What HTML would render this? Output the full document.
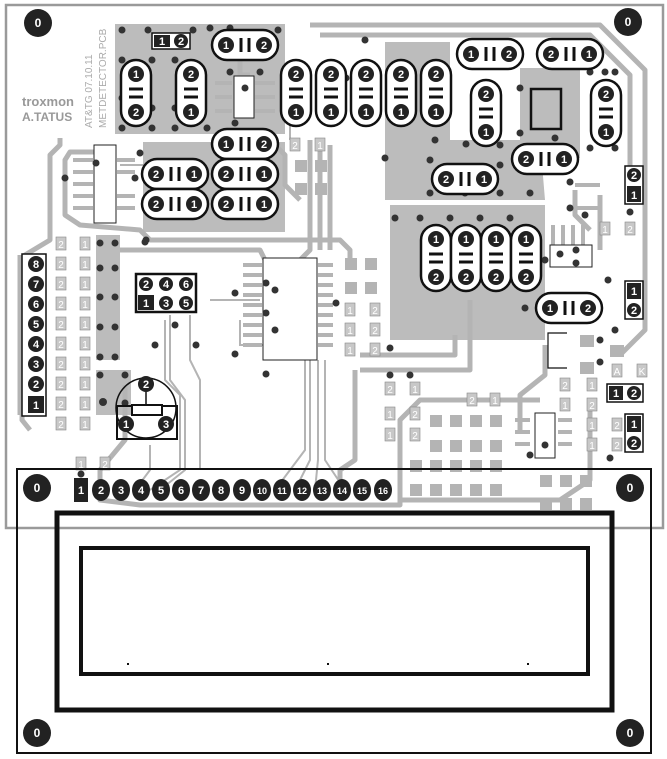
<!DOCTYPE html>
<html><head><meta charset="utf-8"><style>
html,body{margin:0;padding:0;background:#fff}
svg{display:block}
text{font-family:"Liberation Sans",sans-serif}
</style></head><body>
<svg width="667" height="759" viewBox="0 0 667 759" xmlns="http://www.w3.org/2000/svg">
<!-- board outline -->
<rect x="6" y="5" width="657" height="523" fill="none" stroke="#9a9a9a" stroke-width="2.5"/>

<!-- gray copper regions -->
<g fill="#bcbcbc">
<rect x="115" y="24" width="170" height="110"/>
<rect x="143" y="142" width="142" height="90"/>
<polygon points="385,42 450,42 450,140 540,140 545,200 385,200"/>
<rect x="390" y="205" width="155" height="135"/>
<rect x="96" y="235" width="24" height="125"/>
<rect x="96" y="370" width="35" height="45"/>
<rect x="520" y="68" width="60" height="90"/>
</g>

<!-- traces -->
<g fill="none" stroke="#b4b4b4" stroke-width="5" stroke-linejoin="round">
<polyline points="310,25 600,25 645,70 645,330 620,355"/>
<polyline points="320,35 590,35 630,75 630,180"/>
<polyline points="60,138 60,145 50,155 50,240 25,255 22,420 30,430"/>
<polyline points="20,255 20,415"/>
<polyline points="95,152 70,152 65,160 65,215 80,225 140,230 150,240 340,240 350,250 350,260"/>
<polyline points="120,250 260,250 265,260"/>
<polyline points="125,385 125,440 100,470 100,500 140,505 400,505 400,420 420,400 540,400"/>
<polyline points="355,370 355,460 340,470 340,480"/>
<polyline points="400,460 400,500 560,500 590,480 590,400"/>
<polyline points="240,60 240,75 250,75"/>
<polyline points="310,140 310,250 300,260"/>
<polyline points="320,145 320,250"/>
<polyline points="330,145 330,250"/>
<polyline points="270,140 285,155 285,185 300,200"/>
<polyline points="455,335 455,355 360,355"/>
<polyline points="470,300 470,370 360,370"/>
<polyline points="545,345 545,375 520,395 520,430"/>
<polyline points="600,195 600,250"/>
<polyline points="575,190 575,215 590,230"/>
</g>
<g fill="none" stroke="#b4b4b4" stroke-width="2">
<polyline points="170,315 170,380 185,400 185,470 160,490"/>
<polyline points="190,315 190,360 200,380 200,470"/>
<polyline points="165,320 165,380 180,395 180,470 150,490"/>
<polyline points="305,360 305,450 275,490"/>
<polyline points="310,360 310,460 295,490"/>
<polyline points="318,360 318,460 315,490"/>
<polyline points="325,360 325,460 345,490"/>
<polyline points="150,445 150,470 135,490"/>
<polyline points="240,320 240,345 270,345"/>
<polyline points="210,300 260,300"/>
<polyline points="290,125 290,140"/>
<polyline points="120,165 145,165"/>
</g>
<!-- IC pins -->
<g stroke="#b4b4b4" stroke-width="4">
<line x1="243" y1="265" x2="262" y2="265"/><line x1="243" y1="275" x2="262" y2="275"/><line x1="243" y1="285" x2="262" y2="285"/><line x1="243" y1="295" x2="262" y2="295"/><line x1="243" y1="305" x2="262" y2="305"/><line x1="243" y1="315" x2="262" y2="315"/><line x1="243" y1="325" x2="262" y2="325"/><line x1="243" y1="335" x2="262" y2="335"/><line x1="243" y1="345" x2="262" y2="345"/>
<line x1="318" y1="265" x2="333" y2="265"/><line x1="318" y1="275" x2="333" y2="275"/><line x1="318" y1="285" x2="333" y2="285"/><line x1="318" y1="295" x2="333" y2="295"/><line x1="318" y1="305" x2="333" y2="305"/><line x1="318" y1="315" x2="333" y2="315"/><line x1="318" y1="325" x2="333" y2="325"/><line x1="318" y1="335" x2="333" y2="335"/><line x1="318" y1="345" x2="333" y2="345"/>
<line x1="73" y1="160" x2="93" y2="160"/><line x1="73" y1="172" x2="93" y2="172"/><line x1="73" y1="184" x2="93" y2="184"/><line x1="73" y1="196" x2="93" y2="196"/><line x1="73" y1="208" x2="93" y2="208"/>
<line x1="117" y1="160" x2="135" y2="160"/><line x1="117" y1="172" x2="135" y2="172"/><line x1="117" y1="196" x2="135" y2="196"/><line x1="117" y1="208" x2="135" y2="208"/>
<line x1="215" y1="83" x2="232" y2="83"/><line x1="215" y1="97" x2="232" y2="97"/><line x1="215" y1="111" x2="232" y2="111"/>
<line x1="255" y1="83" x2="275" y2="83"/><line x1="255" y1="97" x2="275" y2="97"/><line x1="255" y1="111" x2="275" y2="111"/>
<line x1="553" y1="225" x2="553" y2="245"/><line x1="563" y1="225" x2="563" y2="245"/><line x1="573" y1="225" x2="573" y2="245"/><line x1="583" y1="225" x2="583" y2="245"/>
<line x1="515" y1="420" x2="530" y2="420"/><line x1="515" y1="432" x2="530" y2="432"/><line x1="515" y1="444" x2="530" y2="444"/>
<line x1="558" y1="420" x2="572" y2="420"/><line x1="558" y1="432" x2="572" y2="432"/><line x1="558" y1="444" x2="572" y2="444"/>
<line x1="575" y1="185" x2="600" y2="185"/><line x1="575" y1="208" x2="600" y2="208"/>
</g>

<!-- SMD pads -->
<g fill="#b4b4b4">
<rect x="295" y="160" width="12" height="12"/><rect x="315" y="160" width="12" height="12"/><rect x="295" y="183" width="12" height="12"/><rect x="315" y="183" width="12" height="12"/>
<rect x="345" y="258" width="12" height="12"/><rect x="365" y="258" width="12" height="12"/><rect x="345" y="282" width="12" height="12"/><rect x="365" y="282" width="12" height="12"/>
<rect x="430" y="415" width="12" height="12"/><rect x="450" y="415" width="12" height="12"/><rect x="470" y="415" width="12" height="12"/><rect x="490" y="415" width="12" height="12"/>
<rect x="430" y="440" width="12" height="12"/><rect x="450" y="440" width="12" height="12"/><rect x="470" y="440" width="12" height="12"/><rect x="490" y="440" width="12" height="12"/>
<rect x="410" y="460" width="12" height="12"/><rect x="430" y="460" width="12" height="12"/><rect x="450" y="460" width="12" height="12"/><rect x="470" y="460" width="12" height="12"/><rect x="490" y="460" width="12" height="12"/>
<rect x="410" y="484" width="12" height="12"/><rect x="430" y="484" width="12" height="12"/><rect x="450" y="484" width="12" height="12"/><rect x="470" y="484" width="12" height="12"/><rect x="490" y="484" width="12" height="12"/>
<rect x="540" y="475" width="12" height="12"/><rect x="560" y="475" width="12" height="12"/><rect x="580" y="475" width="12" height="12"/>
<rect x="540" y="498" width="12" height="12"/><rect x="560" y="498" width="12" height="12"/><rect x="580" y="498" width="12" height="12"/>
<rect x="580" y="335" width="14" height="12"/><rect x="580" y="362" width="14" height="12"/><rect x="610" y="345" width="14" height="12"/>
</g>

<!-- small 1/2 pads -->
<g font-size="10" fill="#fff" text-anchor="middle">
<g fill="#c8c8c8" stroke="#888" stroke-width="0.6">
<rect x="56" y="237" width="10" height="13"/><rect x="80" y="237" width="10" height="13"/>
<rect x="56" y="257" width="10" height="13"/><rect x="80" y="257" width="10" height="13"/>
<rect x="56" y="277" width="10" height="13"/><rect x="80" y="277" width="10" height="13"/>
<rect x="56" y="297" width="10" height="13"/><rect x="80" y="297" width="10" height="13"/>
<rect x="56" y="317" width="10" height="13"/><rect x="80" y="317" width="10" height="13"/>
<rect x="56" y="337" width="10" height="13"/><rect x="80" y="337" width="10" height="13"/>
<rect x="56" y="357" width="10" height="13"/><rect x="80" y="357" width="10" height="13"/>
<rect x="56" y="377" width="10" height="13"/><rect x="80" y="377" width="10" height="13"/>
<rect x="56" y="397" width="10" height="13"/><rect x="80" y="397" width="10" height="13"/>
<rect x="56" y="417" width="10" height="13"/><rect x="80" y="417" width="10" height="13"/>
<rect x="76" y="457" width="10" height="13"/><rect x="100" y="457" width="10" height="13"/>
<rect x="290" y="138" width="10" height="13"/><rect x="315" y="138" width="10" height="13"/>
<rect x="345" y="303" width="10" height="13"/><rect x="370" y="303" width="10" height="13"/>
<rect x="345" y="323" width="10" height="13"/><rect x="370" y="323" width="10" height="13"/>
<rect x="345" y="343" width="10" height="13"/><rect x="370" y="343" width="10" height="13"/>
<rect x="385" y="382" width="10" height="13"/><rect x="410" y="382" width="10" height="13"/>
<rect x="385" y="407" width="10" height="13"/><rect x="410" y="407" width="10" height="13"/>
<rect x="385" y="428" width="10" height="13"/><rect x="410" y="428" width="10" height="13"/>
<rect x="467" y="393" width="10" height="13"/><rect x="490" y="393" width="10" height="13"/>
<rect x="560" y="378" width="10" height="13"/><rect x="587" y="378" width="10" height="13"/>
<rect x="560" y="398" width="10" height="13"/><rect x="587" y="398" width="10" height="13"/>
<rect x="587" y="418" width="10" height="13"/><rect x="612" y="418" width="10" height="13"/>
<rect x="587" y="438" width="10" height="13"/><rect x="612" y="438" width="10" height="13"/>
<rect x="600" y="222" width="10" height="13"/><rect x="625" y="222" width="10" height="13"/>
<rect x="612" y="364" width="10" height="13"/><rect x="637" y="364" width="10" height="13"/>
</g>
<text x="61" y="248">2</text><text x="85" y="248">1</text>
<text x="61" y="268">2</text><text x="85" y="268">1</text>
<text x="61" y="288">2</text><text x="85" y="288">1</text>
<text x="61" y="308">2</text><text x="85" y="308">1</text>
<text x="61" y="328">2</text><text x="85" y="328">1</text>
<text x="61" y="348">2</text><text x="85" y="348">1</text>
<text x="61" y="368">2</text><text x="85" y="368">1</text>
<text x="61" y="388">2</text><text x="85" y="388">1</text>
<text x="61" y="408">2</text><text x="85" y="408">1</text>
<text x="61" y="428">2</text><text x="85" y="428">1</text>
<text x="81" y="468">1</text><text x="105" y="468">2</text>
<text x="295" y="149">2</text><text x="320" y="149">1</text>
<text x="350" y="314">1</text><text x="375" y="314">2</text>
<text x="350" y="334">1</text><text x="375" y="334">2</text>
<text x="350" y="354">1</text><text x="375" y="354">2</text>
<text x="390" y="393">2</text><text x="415" y="393">1</text>
<text x="390" y="418">1</text><text x="415" y="418">2</text>
<text x="390" y="439">1</text><text x="415" y="439">2</text>
<text x="472" y="404">2</text><text x="495" y="404">1</text>
<text x="565" y="389">2</text><text x="592" y="389">1</text>
<text x="565" y="409">1</text><text x="592" y="409">2</text>
<text x="592" y="429">1</text><text x="617" y="429">2</text>
<text x="592" y="449">1</text><text x="617" y="449">2</text>
<text x="605" y="233">1</text><text x="630" y="233">2</text>
<text x="617" y="375">A</text><text x="642" y="375">K</text>
</g>

<!-- ICs -->
<g fill="#fff" stroke="#222" stroke-width="1">
<rect x="94" y="145" width="22" height="78"/>
<rect x="263" y="258" width="54" height="102"/>
<rect x="234" y="76" width="20" height="42"/>
<rect x="550" y="245" width="42" height="22"/>
<rect x="535" y="413" width="20" height="45"/>
</g>
<rect x="531" y="89" width="30" height="40" fill="none" stroke="#111" stroke-width="2.5"/>
<g fill="none" stroke="#111" stroke-width="1.2">
<polyline points="567,333 548,333 548,368 567,368"/>
</g>

<!-- logo & text -->
<text x="22" y="106" font-size="13" font-weight="bold" fill="#999">troxmon</text>
<text x="22" y="121" font-size="12" font-weight="bold" fill="#999">A.TATUS</text>
<text transform="translate(92,128) rotate(-90)" font-size="10" fill="#aaa">AT&amp;TG 07.10.11</text>
<text transform="translate(106,128) rotate(-90)" font-size="10" fill="#aaa">METDETECTOR.PCB</text>

<!-- vias -->
<g fill="#333">
<circle cx="122" cy="30" r="3.5"/><circle cx="148" cy="30" r="3.5"/><circle cx="193" cy="30" r="3.5"/><circle cx="210" cy="28" r="3.5"/><circle cx="230" cy="28" r="3.5"/><circle cx="278" cy="30" r="3.5"/>
<circle cx="122" cy="60" r="3.5"/><circle cx="152" cy="60" r="3.5"/><circle cx="175" cy="60" r="3.5"/><circle cx="122" cy="98" r="3.5"/><circle cx="152" cy="108" r="3.5"/><circle cx="175" cy="108" r="3.5"/>
<circle cx="122" cy="128" r="3.5"/><circle cx="152" cy="128" r="3.5"/><circle cx="175" cy="128" r="3.5"/><circle cx="207" cy="128" r="3.5"/>
<circle cx="245" cy="88" r="3.5"/><circle cx="230" cy="72" r="3.5"/><circle cx="260" cy="72" r="3.5"/><circle cx="235" cy="123" r="3.5"/>
<circle cx="96" cy="163" r="3.5"/><circle cx="65" cy="178" r="3.5"/><circle cx="135" cy="178" r="3.5"/><circle cx="140" cy="153" r="3.5"/><circle cx="195" cy="189" r="3.5"/><circle cx="265" cy="189" r="3.5"/>
<circle cx="145" cy="242" r="3.5"/><circle cx="100" cy="243" r="3.5"/><circle cx="115" cy="243" r="3.5"/>
<circle cx="100" cy="268" r="3.5"/><circle cx="115" cy="268" r="3.5"/><circle cx="100" cy="297" r="3.5"/><circle cx="115" cy="297" r="3.5"/><circle cx="100" cy="327" r="3.5"/><circle cx="115" cy="327" r="3.5"/><circle cx="100" cy="357" r="3.5"/><circle cx="115" cy="357" r="3.5"/>
<circle cx="100" cy="375" r="3.5"/><circle cx="125" cy="375" r="3.5"/><circle cx="103" cy="402" r="4"/><circle cx="125" cy="403" r="3.5"/>
<circle cx="155" cy="345" r="3.5"/><circle cx="175" cy="325" r="3.5"/><circle cx="196" cy="345" r="3.5"/>
<circle cx="235" cy="293" r="3.5"/><circle cx="235" cy="354" r="3.5"/><circle cx="266" cy="283" r="3.5"/><circle cx="275" cy="290" r="3.5"/><circle cx="266" cy="313" r="3.5"/><circle cx="275" cy="330" r="3.5"/><circle cx="266" cy="374" r="3.5"/><circle cx="336" cy="303" r="3.5"/><circle cx="146" cy="240" r="3.5"/>
<circle cx="365" cy="40" r="3.5"/><circle cx="346" cy="78" r="3.5"/><circle cx="356" cy="103" r="3.5"/><circle cx="435" cy="140" r="3.5"/><circle cx="466" cy="144" r="3.5"/><circle cx="430" cy="160" r="3.5"/><circle cx="500" cy="145" r="3.5"/><circle cx="430" cy="193" r="3.5"/><circle cx="465" cy="193" r="3.5"/><circle cx="500" cy="165" r="3.5"/><circle cx="500" cy="193" r="3.5"/><circle cx="530" cy="193" r="3.5"/><circle cx="385" cy="158" r="3.5"/><circle cx="520" cy="88" r="3.5"/><circle cx="520" cy="133" r="3.5"/><circle cx="555" cy="138" r="3.5"/><circle cx="590" cy="72" r="3.5"/><circle cx="605" cy="72" r="3.5"/><circle cx="615" cy="72" r="3.5"/><circle cx="590" cy="148" r="3.5"/><circle cx="615" cy="148" r="3.5"/><circle cx="570" cy="182" r="3.5"/><circle cx="570" cy="208" r="3.5"/><circle cx="585" cy="215" r="3.5"/><circle cx="630" cy="212" r="3.5"/>
<circle cx="395" cy="218" r="3.5"/><circle cx="420" cy="218" r="3.5"/><circle cx="450" cy="218" r="3.5"/><circle cx="480" cy="218" r="3.5"/><circle cx="510" cy="218" r="3.5"/><circle cx="545" cy="260" r="3.5"/><circle cx="560" cy="254" r="3.5"/><circle cx="576" cy="250" r="3.5"/><circle cx="576" cy="263" r="3.5"/><circle cx="525" cy="308" r="3.5"/><circle cx="608" cy="280" r="3.5"/><circle cx="615" cy="330" r="3.5"/><circle cx="600" cy="340" r="3.5"/><circle cx="600" cy="362" r="3.5"/><circle cx="390" cy="348" r="3.5"/><circle cx="390" cy="375" r="3.5"/><circle cx="410" cy="375" r="3.5"/><circle cx="545" cy="445" r="3.5"/><circle cx="530" cy="455" r="3.5"/><circle cx="610" cy="458" r="3.5"/><circle cx="630" cy="10" r="0"/>
<circle cx="81" cy="474" r="3.5"/>
</g>

<!-- horizontal caps -->
<g stroke="#111" stroke-width="2.5" fill="#fff">
<rect x="212" y="30" width="66" height="30" rx="15"/>
<rect x="457" y="39" width="66" height="30" rx="15"/>
<rect x="537" y="39" width="66" height="30" rx="15"/>
<rect x="212" y="129" width="66" height="30" rx="15"/>
<rect x="142" y="159" width="66" height="30" rx="15"/>
<rect x="212" y="159" width="66" height="30" rx="15"/>
<rect x="142" y="189" width="66" height="30" rx="15"/>
<rect x="212" y="189" width="66" height="30" rx="15"/>
<rect x="432" y="164" width="66" height="30" rx="15"/>
<rect x="512" y="144" width="66" height="30" rx="15"/>
<rect x="536" y="293" width="66" height="30" rx="15"/>
</g>
<!-- vertical caps -->
<g stroke="#111" stroke-width="2.5" fill="#fff">
<rect x="121" y="60" width="30" height="66" rx="15"/>
<rect x="176" y="60" width="30" height="66" rx="15"/>
<rect x="281" y="60" width="30" height="66" rx="15"/>
<rect x="316" y="60" width="30" height="66" rx="15"/>
<rect x="351" y="60" width="30" height="66" rx="15"/>
<rect x="386" y="60" width="30" height="66" rx="15"/>
<rect x="421" y="60" width="30" height="66" rx="15"/>
<rect x="471" y="80" width="30" height="66" rx="15"/>
<rect x="591" y="80" width="30" height="66" rx="15"/>
<rect x="421" y="225" width="30" height="66" rx="15"/>
<rect x="451" y="225" width="30" height="66" rx="15"/>
<rect x="481" y="225" width="30" height="66" rx="15"/>
<rect x="511" y="225" width="30" height="66" rx="15"/>
</g>
<!-- plates -->
<g stroke="#111" stroke-width="3">
<path d="M241,38v14M249,38v14 M486,47v14M494,47v14 M566,47v14M574,47v14 M241,137v14M249,137v14 M171,167v14M179,167v14 M241,167v14M249,167v14 M171,197v14M179,197v14 M241,197v14M249,197v14 M461,172v14M469,172v14 M541,152v14M549,152v14 M565,301v14M573,301v14"/>
<path d="M129,89h14M129,97h14 M184,89h14M184,97h14 M289,89h14M289,97h14 M324,89h14M324,97h14 M359,89h14M359,97h14 M394,89h14M394,97h14 M429,89h14M429,97h14 M479,109h14M479,117h14 M599,109h14M599,117h14 M429,254h14M429,262h14 M459,254h14M459,262h14 M489,254h14M489,262h14 M519,254h14M519,262h14"/>
</g>
<!-- cap pins -->
<g fill="#222">
<circle cx="226" cy="45" r="8"/><circle cx="264" cy="45" r="8"/>
<circle cx="471" cy="54" r="8"/><circle cx="509" cy="54" r="8"/>
<circle cx="551" cy="54" r="8"/><circle cx="589" cy="54" r="8"/>
<circle cx="226" cy="144" r="8"/><circle cx="264" cy="144" r="8"/>
<circle cx="156" cy="174" r="8"/><circle cx="194" cy="174" r="8"/>
<circle cx="226" cy="174" r="8"/><circle cx="264" cy="174" r="8"/>
<circle cx="156" cy="204" r="8"/><circle cx="194" cy="204" r="8"/>
<circle cx="226" cy="204" r="8"/><circle cx="264" cy="204" r="8"/>
<circle cx="446" cy="179" r="8"/><circle cx="484" cy="179" r="8"/>
<circle cx="526" cy="159" r="8"/><circle cx="564" cy="159" r="8"/>
<circle cx="550" cy="308" r="8"/><circle cx="588" cy="308" r="8"/>
<circle cx="136" cy="74" r="8"/><circle cx="136" cy="112" r="8"/>
<circle cx="191" cy="74" r="8"/><circle cx="191" cy="112" r="8"/>
<circle cx="296" cy="74" r="8"/><circle cx="296" cy="112" r="8"/>
<circle cx="331" cy="74" r="8"/><circle cx="331" cy="112" r="8"/>
<circle cx="366" cy="74" r="8"/><circle cx="366" cy="112" r="8"/>
<circle cx="401" cy="74" r="8"/><circle cx="401" cy="112" r="8"/>
<circle cx="436" cy="74" r="8"/><circle cx="436" cy="112" r="8"/>
<circle cx="486" cy="94" r="8"/><circle cx="486" cy="132" r="8"/>
<circle cx="606" cy="94" r="8"/><circle cx="606" cy="132" r="8"/>
<circle cx="436" cy="239" r="8"/><circle cx="436" cy="277" r="8"/>
<circle cx="466" cy="239" r="8"/><circle cx="466" cy="277" r="8"/>
<circle cx="496" cy="239" r="8"/><circle cx="496" cy="277" r="8"/>
<circle cx="526" cy="239" r="8"/><circle cx="526" cy="277" r="8"/>
</g>
<g fill="#fff" font-size="11" font-weight="bold" text-anchor="middle">
<text x="226" y="49">1</text><text x="264" y="49">2</text>
<text x="471" y="58">1</text><text x="509" y="58">2</text>
<text x="551" y="58">2</text><text x="589" y="58">1</text>
<text x="226" y="148">1</text><text x="264" y="148">2</text>
<text x="156" y="178">2</text><text x="194" y="178">1</text>
<text x="226" y="178">2</text><text x="264" y="178">1</text>
<text x="156" y="208">2</text><text x="194" y="208">1</text>
<text x="226" y="208">2</text><text x="264" y="208">1</text>
<text x="446" y="183">2</text><text x="484" y="183">1</text>
<text x="526" y="163">2</text><text x="564" y="163">1</text>
<text x="550" y="312">1</text><text x="588" y="312">2</text>
<text x="136" y="78">1</text><text x="136" y="116">2</text>
<text x="191" y="78">2</text><text x="191" y="116">1</text>
<text x="296" y="78">2</text><text x="296" y="116">1</text>
<text x="331" y="78">2</text><text x="331" y="116">1</text>
<text x="366" y="78">2</text><text x="366" y="116">1</text>
<text x="401" y="78">2</text><text x="401" y="116">1</text>
<text x="436" y="78">2</text><text x="436" y="116">1</text>
<text x="486" y="98">2</text><text x="486" y="136">1</text>
<text x="606" y="98">2</text><text x="606" y="136">1</text>
<text x="436" y="243">1</text><text x="436" y="281">2</text>
<text x="466" y="243">1</text><text x="466" y="281">2</text>
<text x="496" y="243">1</text><text x="496" y="281">2</text>
<text x="526" y="243">1</text><text x="526" y="281">2</text>
</g>

<!-- two-pin headers -->
<g stroke="#111" stroke-width="1.5" fill="#fff">
<rect x="152" y="33" width="38" height="16"/>
<rect x="625" y="166" width="18" height="38"/>
<rect x="625" y="281" width="18" height="38"/>
<rect x="607" y="384" width="36" height="18"/>
<rect x="625" y="414" width="18" height="38"/>
<rect x="22" y="254" width="24" height="162"/>
</g>
<g fill="#222">
<rect x="154" y="35" width="16" height="12"/><circle cx="181" cy="41" r="7"/>
<circle cx="634" cy="175" r="7"/><rect x="627" y="186" width="14" height="16"/>
<rect x="627" y="283" width="14" height="16"/><circle cx="634" cy="310" r="7"/>
<rect x="609" y="386" width="14" height="14"/><circle cx="634" cy="393" r="7"/>
<rect x="627" y="416" width="14" height="16"/><circle cx="634" cy="443" r="7"/>
<circle cx="36" cy="264" r="8"/><circle cx="36" cy="284" r="8"/><circle cx="36" cy="304" r="8"/><circle cx="36" cy="324" r="8"/><circle cx="36" cy="344" r="8"/><circle cx="36" cy="364" r="8"/><circle cx="36" cy="384" r="8"/><rect x="28" y="396" width="16" height="17"/>
</g>
<g fill="#fff" font-size="11" font-weight="bold" text-anchor="middle">
<text x="162" y="45">1</text><text x="181" y="45">2</text>
<text x="634" y="179">2</text><text x="634" y="199">1</text>
<text x="634" y="295">1</text><text x="634" y="314">2</text>
<text x="616" y="397">1</text><text x="634" y="397">2</text>
<text x="634" y="428">1</text><text x="634" y="447">2</text>
<text x="36" y="268">8</text><text x="36" y="288">7</text><text x="36" y="308">6</text><text x="36" y="328">5</text><text x="36" y="348">4</text><text x="36" y="368">3</text><text x="36" y="388">2</text><text x="36" y="409">1</text>
</g>

<!-- 6-pin header -->
<rect x="136" y="274" width="60" height="38" fill="#fff" stroke="#111" stroke-width="2.5"/>
<g fill="#222"><circle cx="146" cy="284" r="7"/><circle cx="166" cy="284" r="7"/><circle cx="186" cy="284" r="7"/><rect x="138" y="295" width="16" height="15"/><circle cx="166" cy="303" r="7"/><circle cx="186" cy="303" r="7"/></g>
<g fill="#fff" font-size="11" font-weight="bold" text-anchor="middle"><text x="146" y="288">2</text><text x="166" y="288">4</text><text x="186" y="288">6</text><text x="146" y="307">1</text><text x="166" y="307">3</text><text x="186" y="307">5</text></g>

<!-- potentiometer -->
<circle cx="146" cy="408" r="30" fill="none" stroke="#111" stroke-width="1.5"/>
<rect x="117" y="406" width="60" height="33" fill="none" stroke="#111" stroke-width="2"/>
<rect x="132" y="405" width="30" height="10" fill="#fff" stroke="#111" stroke-width="2"/>
<line x1="146" y1="390" x2="146" y2="404" stroke="#111" stroke-width="1.5"/>
<g fill="#222"><circle cx="146" cy="384" r="8"/><circle cx="126" cy="424" r="8"/><circle cx="166" cy="424" r="8"/></g>
<g fill="#fff" font-size="11" font-weight="bold" text-anchor="middle"><text x="146" y="388">2</text><text x="126" y="428">1</text><text x="166" y="428">3</text></g>

<!-- LCD -->
<rect x="17" y="469" width="634" height="284" fill="none" stroke="#111" stroke-width="2"/>
<rect x="57" y="513" width="555" height="197" fill="none" stroke="#111" stroke-width="5"/>
<rect x="81" y="548" width="507" height="126" fill="none" stroke="#111" stroke-width="4"/>
<g fill="#111"><rect x="127" y="663" width="2" height="2"/><rect x="327" y="663" width="2" height="2"/><rect x="527" y="663" width="2" height="2"/></g>

<!-- header pins 1-16 -->
<g fill="#222">
<rect x="74" y="478" width="14" height="24"/>
<ellipse cx="101" cy="490" rx="9" ry="11"/><ellipse cx="121" cy="490" rx="9" ry="11"/><ellipse cx="141" cy="490" rx="9" ry="11"/><ellipse cx="161" cy="490" rx="9" ry="11"/><ellipse cx="181" cy="490" rx="9" ry="11"/><ellipse cx="201" cy="490" rx="9" ry="11"/><ellipse cx="221" cy="490" rx="9" ry="11"/><ellipse cx="242" cy="490" rx="9" ry="11"/><ellipse cx="262" cy="490" rx="9" ry="11"/><ellipse cx="282" cy="490" rx="9" ry="11"/><ellipse cx="302" cy="490" rx="9" ry="11"/><ellipse cx="322" cy="490" rx="9" ry="11"/><ellipse cx="342" cy="490" rx="9" ry="11"/><ellipse cx="362" cy="490" rx="9" ry="11"/><ellipse cx="383" cy="490" rx="9" ry="11"/>
</g>
<g fill="#fff" font-size="11" font-weight="bold" text-anchor="middle" font-family="Liberation Sans Narrow, Liberation Sans, sans-serif">
<text x="81" y="494">1</text><text x="101" y="494">2</text><text x="121" y="494">3</text><text x="141" y="494">4</text><text x="161" y="494">5</text><text x="181" y="494">6</text><text x="201" y="494">7</text><text x="221" y="494">8</text><text x="242" y="494">9</text>
<g font-size="9" textLength="13"><text x="262" y="494">10</text><text x="282" y="494">11</text><text x="302" y="494">12</text><text x="322" y="494">13</text><text x="342" y="494">14</text><text x="362" y="494">15</text><text x="383" y="494">16</text></g>
</g>

<!-- mounting holes -->
<g fill="#222">
<circle cx="38" cy="23" r="14"/><circle cx="628" cy="22" r="14"/>
<circle cx="37" cy="488" r="14"/><circle cx="630" cy="488" r="14"/>
<circle cx="37" cy="733" r="14"/><circle cx="630" cy="733" r="14"/>
</g>
<g fill="#fff" font-size="12" font-weight="bold" text-anchor="middle">
<text x="38" y="27">0</text><text x="628" y="26">0</text><text x="37" y="492">0</text><text x="630" y="492">0</text><text x="37" y="737">0</text><text x="630" y="737">0</text>
</g>
</svg>
</body></html>
